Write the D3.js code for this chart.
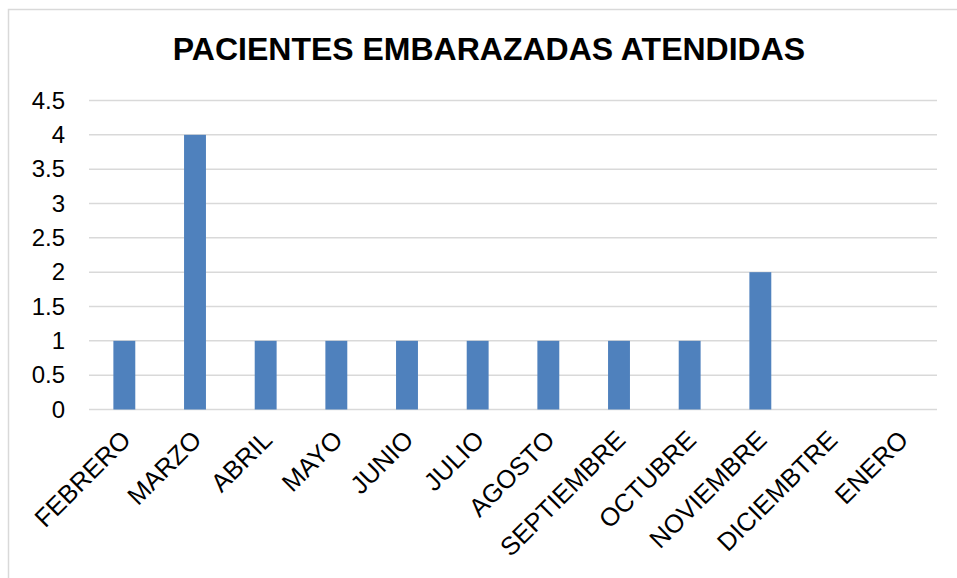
<!DOCTYPE html>
<html>
<head>
<meta charset="utf-8">
<script src="https://cdn.jsdelivr.net/npm/d3@7"></script>
<style>
  body { margin: 0; background: #fff; }
  svg { display: block; font-family: "Liberation Sans", Arial, sans-serif; }
</style>
</head>
<body>
<svg id="chart"></svg>
<script>
const title = "PACIENTES EMBARAZADAS ATENDIDAS";
const months = ["FEBRERO", "MARZO", "ABRIL", "MAYO", "JUNIO", "JULIO", "AGOSTO",
  "SEPTIEMBRE", "OCTUBRE", "NOVIEMBRE", "DICIEMBTRE", "ENERO"];
const values = [1, 4, 1, 1, 1, 1, 1, 1, 1, 2, 0, 0];
const yTicks = [0, 0.5, 1, 1.5, 2, 2.5, 3, 3.5, 4, 4.5];

const width = 957, height = 578;
const margin = { top: 100.5, right: 20, bottom: 168.5, left: 89 };

const svg = d3.select("#chart")
  .attr("width", width)
  .attr("height", height);

// outer chart border (runs off the right and bottom)
svg.append("rect")
  .attr("x", 8.5).attr("y", 9.5)
  .attr("width", 1000).attr("height", 1000)
  .attr("fill", "none")
  .attr("stroke", "#d9d9d9")
  .attr("stroke-width", 1.5);

const x = d3.scaleBand()
  .domain(months)
  .range([margin.left, 937])
  .paddingInner(0.69)
  .paddingOuter(0.345);

const y = d3.scaleLinear()
  .domain([0, 4.5])
  .range([height - margin.bottom, margin.top]);

// gridlines
svg.append("g")
  .selectAll("line")
  .data(yTicks)
  .join("line")
  .attr("x1", margin.left)
  .attr("x2", 937)
  .attr("y1", d => y(d))
  .attr("y2", d => y(d))
  .attr("stroke", "#d9d9d9")
  .attr("stroke-width", 1.5);

// y axis labels
const yAxis = g => g
  .attr("transform", `translate(${margin.left},0)`)
  .call(d3.axisLeft(y).tickValues(yTicks).tickFormat(d3.format("")).tickSize(0).tickPadding(24))
  .call(g => g.select(".domain").remove())
  .call(g => g.selectAll("text")
    .attr("font-size", 24)
    .attr("font-family", "Liberation Sans, Arial, sans-serif")
    .attr("fill", "#000"));

svg.append("g").call(yAxis);

// bars
svg.append("g")
  .attr("fill", "#4f81bd")
  .selectAll("rect")
  .data(values)
  .join("rect")
  .attr("x", (d, i) => x(months[i]))
  .attr("y", d => y(d))
  .attr("width", x.bandwidth())
  .attr("height", d => y(0) - y(d));

// x labels, rotated
svg.append("g")
  .selectAll("text")
  .data(months)
  .join("text")
  .attr("transform", d => `translate(${x(d) + x.bandwidth() / 2 + 8},${y(0) + 32}) rotate(-45)`)
  .attr("text-anchor", "end")
  .attr("font-size", 25.5)
  .attr("fill", "#000")
  .text(d => d);

// title
svg.append("text")
  .attr("x", 489)
  .attr("y", 60)
  .attr("text-anchor", "middle")
  .attr("font-size", 32)
  .attr("font-weight", "bold")
  .attr("fill", "#000")
  .text(title);
</script>
</body>
</html>
